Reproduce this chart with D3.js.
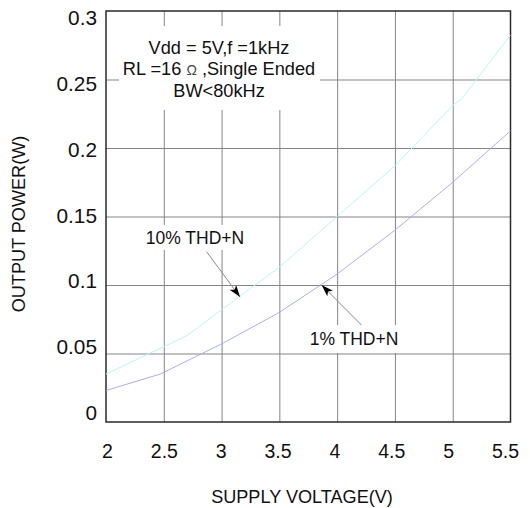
<!DOCTYPE html>
<html>
<head>
<meta charset="utf-8">
<script src="https://cdn.jsdelivr.net/npm/d3@7/dist/d3.min.js"></script>
<style>
  html, body { margin: 0; padding: 0; background: #fff; }
  svg { display: block; }
  text { font-family: "Liberation Sans", Arial, sans-serif; fill: #111; }
</style>
</head>
<body>
<svg id="chart" width="530" height="508"></svg>
<script>
// ---- data ----
const xTicks = [2, 2.5, 3, 3.5, 4, 4.5, 5, 5.5];
const xTickLabels = ["2", "2.5", "3", "3.5", "4", "4.5", "5", "5.5"];
const yTicks = [0, 0.05, 0.1, 0.15, 0.2, 0.25, 0.3];
const yTickLabels = ["0", "0.05", "0.1", "0.15", "0.2", "0.25", "0.3"];

const thd10X = [2, 2.5, 2.7, 3, 3.5, 4, 4.5, 5, 5.08, 5.5];
const thd10Y = [0.035, 0.055, 0.063, 0.082, 0.113, 0.150, 0.187, 0.231, 0.236, 0.2825];
const thd1X = [2, 2.47, 3, 3.5, 4, 4.5, 5, 5.5];
const thd1Y = [0.023, 0.035, 0.057, 0.080, 0.108, 0.140, 0.175, 0.2125];

const noteLines = ["Vdd = 5V,f =1kHz", "RL =16 \u03A9 ,Single Ended", "BW<80kHz"];
const xTitle = "SUPPLY VOLTAGE(V)";
const yTitle = "OUTPUT POWER(W)";

// ---- layout ----
const svg = d3.select("#chart");
const L = 106, R = 510.5, T = 11, B = 422;
const x = d3.scaleLinear().domain([2, 5.5]).range([L, R]);
const y = d3.scaleLinear().domain([0, 0.3]).range([B, T]);
// label placement scales (labels in the reference are spread slightly differently from the grid)
const xl = d3.scaleLinear().domain([2, 5.5]).range([107, 505]);
const yl = d3.scaleLinear().domain([0, 0.3]).range([413, 18]);

// grid
svg.append("g").attr("transform", `translate(0,${B})`)
  .call(d3.axisBottom(x).tickValues(xTicks.slice(1, -1)).tickSize(-(B - T)).tickFormat(""))
  .call(g => g.select(".domain").remove())
  .call(g => g.selectAll("line").attr("stroke", "#858585").attr("stroke-width", 1));
svg.append("g").attr("transform", `translate(${L},0)`)
  .call(d3.axisLeft(y).tickValues(yTicks.slice(1, -1)).tickSize(-(R - L)).tickFormat(""))
  .call(g => g.select(".domain").remove())
  .call(g => g.selectAll("line").attr("stroke", "#858585").attr("stroke-width", 1));

// frame
svg.append("rect").attr("x", L).attr("y", T).attr("width", R - L).attr("height", B - T)
  .attr("fill", "none").attr("stroke", "#2a2a2a").attr("stroke-width", 1.5);

// tick labels
svg.append("g").attr("transform", `translate(0,${B})`)
  .call(d3.axisBottom(xl).tickValues(xTicks).tickSize(0).tickPadding(22)
    .tickFormat((d, i) => xTickLabels[i]))
  .call(g => g.select(".domain").remove())
  .call(g => g.selectAll("text").attr("font-size", 19.5).attr("font-family", "Liberation Sans, Arial, sans-serif").attr("fill", "#111"));
svg.append("g").attr("transform", `translate(${L},0)`)
  .call(d3.axisLeft(yl).tickValues(yTicks).tickSize(0).tickPadding(9)
    .tickFormat((d, i) => yTickLabels[i]))
  .call(g => g.select(".domain").remove())
  .call(g => g.selectAll("text").attr("font-size", 20.8).attr("font-family", "Liberation Sans, Arial, sans-serif").attr("fill", "#111"));

// axis titles
svg.append("text").attr("x", 302).attr("y", 503).attr("text-anchor", "middle")
  .attr("font-size", 18.1).text(xTitle);
svg.append("text").attr("transform", "translate(24.5,224) rotate(-90)").attr("text-anchor", "middle")
  .attr("font-size", 18.1).text(yTitle);

// curves
const line = d3.line().x(d => x(d[0])).y(d => y(d[1]));
svg.append("path").datum(d3.zip(thd10X, thd10Y)).attr("d", line)
  .attr("fill", "none").attr("stroke", "#b6f8f2").attr("stroke-width", 1);
svg.append("path").datum(d3.zip(thd1X, thd1Y)).attr("d", line)
  .attr("fill", "none").attr("stroke", "#a4a4f6").attr("stroke-width", 0.9);

// annotation box
svg.append("rect").attr("x", 119).attr("y", 26).attr("width", 201).attr("height", 84).attr("fill", "#fff");
noteLines.forEach((t, i) => {
  const txt = svg.append("text").attr("x", 219).attr("y", 53.5 + i * 21.5).attr("text-anchor", "middle")
    .attr("font-size", 18.2);
  const parts = t.split("\u03A9");
  parts.forEach((p, j) => {
    txt.append("tspan").text(p);
    if (j < parts.length - 1) txt.append("tspan").attr("font-size", 14).attr("fill", "#444").text("\u03A9");
  });
});

// arrow marker
svg.append("defs").append("marker").attr("id", "arr")
  .attr("viewBox", "0 0 12 8").attr("refX", 12).attr("refY", 4)
  .attr("markerWidth", 12).attr("markerHeight", 8).attr("markerUnits", "userSpaceOnUse")
  .attr("orient", "auto")
  .append("path").attr("d", "M0,0 L12,4 L0,8 L3,4 Z").attr("fill", "#000");

// labels with arrows (positions in data units)
const labels = [
  { text: "10% THD+N", lx: 2.77, ly: 0.135, box: [137, 225, 116, 25], sx: 2.87, sy: 0.1243, tx: 3.16, ty: 0.0912 },
  { text: "1% THD+N", lx: 4.146, ly: 0.0606, box: [296, 325, 117, 28], sx: 4.21, sy: 0.0708, tx: 3.866, ty: 0.100 }
];
labels.forEach(l => {
  svg.append("rect").attr("x", l.box[0]).attr("y", l.box[1]).attr("width", l.box[2]).attr("height", l.box[3]).attr("fill", "#fff");
  svg.append("text").attr("x", x(l.lx)).attr("y", y(l.ly) + 6.5).attr("text-anchor", "middle")
    .attr("font-size", 17.5).text(l.text);
  svg.append("line").attr("x1", x(l.sx)).attr("y1", y(l.sy)).attr("x2", x(l.tx)).attr("y2", y(l.ty))
    .attr("stroke", "#8a8a8a").attr("stroke-width", 1).attr("marker-end", "url(#arr)");
});
</script>
</body>
</html>
